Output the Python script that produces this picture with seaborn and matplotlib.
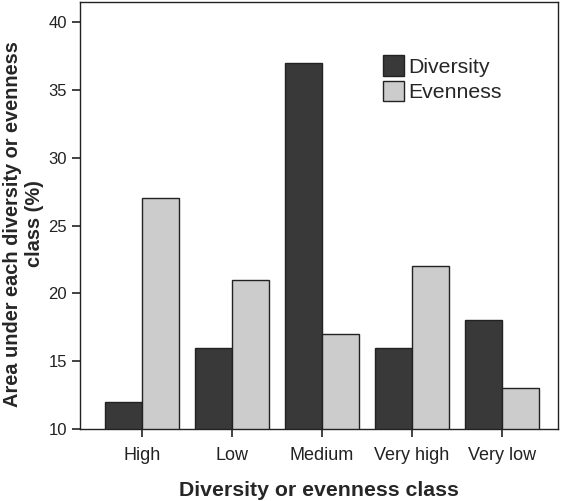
import matplotlib
matplotlib.use("Agg")
import matplotlib.pyplot as plt
import seaborn as sns
import pandas as pd

# Data
classes = ["High", "Low", "Medium", "Very high", "Very low"]
diversity = [12, 16, 37, 16, 18]
evenness = [27, 21, 17, 22, 13]

df = pd.DataFrame({
    "cls": classes * 2,
    "value": diversity + evenness,
    "series": ["Diversity"] * len(classes) + ["Evenness"] * len(classes),
})

sns.set_style("ticks")
plt.rcParams["font.family"] = ["Liberation Sans", "DejaVu Sans"]

fig = plt.figure(figsize=(5.67, 5.01), dpi=100)
ax = fig.add_axes([0.141, 0.144, 0.843, 0.852])

# bars start below the axis; the y axis is cut at 10 like the SPSS original
sns.barplot(data=df, x="cls", y="value", hue="series", order=classes,
            palette={"Diversity": "#393939", "Evenness": "#cccccc"},
            width=0.82, edgecolor="#222222", linewidth=1.0, ax=ax)

ax.set_ylim(10, 41.5)
ax.set_xlim(-0.69, 4.62)
ax.set_yticks([10, 15, 20, 25, 30, 35, 40])
ax.tick_params(axis="both", length=6, width=1.2, colors="#222222")
ax.tick_params(axis="y", labelsize=12)
ax.tick_params(axis="x", labelsize=13, pad=7, bottom=True)
for s in ax.spines.values():
    s.set_linewidth(1.0)
    s.set_color("#222222")

ax.set_xlabel("Diversity or evenness class", fontsize=15.3, fontweight="bold", labelpad=12)
ax.set_ylabel("Area under each diversity or evenness\nclass (%)", fontsize=14.4,
              fontweight="bold", linespacing=1.15)
ax.yaxis.set_label_coords(-0.076, 0.48)

leg = ax.legend(loc="upper left", bbox_to_anchor=(0.634, 0.875), frameon=False,
                fontsize=15.3, handlelength=1.0, handleheight=1.1,
                handletextpad=0.2, labelspacing=0.2, borderaxespad=0,
                borderpad=0)

fig.savefig("out.png", dpi=100)
plt.close(fig)
